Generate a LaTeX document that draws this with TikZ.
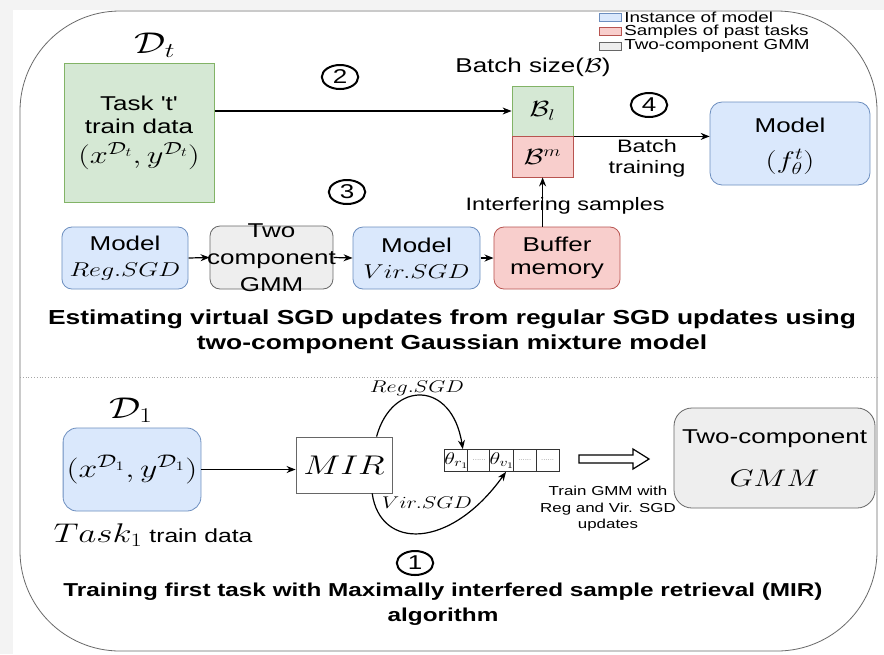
\RequirePackage{fix-cm}
\documentclass[tikz,border=0pt]{standalone}
\usepackage[no-math]{fontspec}
\setmainfont{Liberation Sans}
\usetikzlibrary{arrows.meta,calc,shapes.geometric}

\definecolor{gfill}{HTML}{D5E8D4}\definecolor{gline}{HTML}{82B366}
\definecolor{bfill}{HTML}{DAE8FC}\definecolor{bline}{HTML}{6C8EBF}
\definecolor{pfill}{HTML}{F8CECC}\definecolor{pline}{HTML}{B85450}
\definecolor{yfill}{HTML}{EEEEEE}\definecolor{yline}{HTML}{666666}
\definecolor{bgband}{HTML}{F3F3F3}
\definecolor{framec}{HTML}{6A6A6A}
\definecolor{cellc}{HTML}{333333}

\newcommand\fsz[2]{\fontsize{#1}{#2}\selectfont}

\tikzset{
  box/.style={draw, line width=0.8pt, inner sep=0pt, align=center, font=\fsz{20}{23}},
  greenbox/.style={box, fill=gfill, draw=gline},
  bluebox/.style={box, fill=bfill, draw=bline, rounded corners=10pt},
  pinkbox/.style={box, fill=pfill, draw=pline},
  graybox/.style={box, fill=yfill, draw=yline, rounded corners=10pt},
  numcirc/.style={ellipse, draw, line width=2pt, minimum width=28pt,
    minimum height=24pt, inner sep=0pt, font=\fsz{20}{20}},
  cell/.style={draw=cellc, fill=white, line width=0.8pt, minimum width=17.54pt,
    minimum height=22pt, inner sep=0pt, font=\fsz{17}{17}},
  legsq/.style={draw, line width=0.6pt, minimum width=17pt, minimum height=8pt, inner sep=0pt},
  legtxt/.style={anchor=west, inner sep=0pt, font=\fsz{14.5}{14.5}},
  conn/.style={->, line width=1.2pt},
}
\newcommand\celldots{{\color{gray}\fsz{6}{6}......}}

\begin{document}
\begin{tikzpicture}[x=0.76923pt, y=-1pt, xscale=1.3,
  every node/.append style={transform shape},
  >={Stealth[length=9pt,width=7pt]}]
\useasboundingbox (0,0) rectangle (884,654);
% page background and outer frame
\fill[bgband] (0,0) rectangle (884,654);
\fill[white] (13,10) rectangle (884,654);
\draw[framec, line width=0.8pt, rounded corners=100pt] (20,11) rectangle (877,651);
\draw[gray!70, dotted, line width=0.8pt] (20,377) -- (877,377);

% legend
\node[legsq, fill=bfill, draw=bline] (lg1) at (610,17) {};
\node[legtxt] (lt1) at (624,17) {Instance of model};
\node[legsq, fill=pfill, draw=pline] (lg2) at (610,31.5) {};
\node[legtxt] (lt2) at (624,31.5) {Samples of past tasks};
\node[legsq, fill=yfill, draw=yline] (lg3) at (610,46) {};
\node[legtxt] (lt3) at (624,46) {Two-component GMM};

% ---- upper part: training on task t ----
\node[font=\fsz{30}{34}] (dt) at (155,45) {$\mathcal{D}_t$};
\node[greenbox, minimum width=115.4pt, minimum height=139pt] (task) at (139,132.5)
  {Task \textquotesingle t\textquotesingle\\train data\\[7pt]{\fsz{25}{28}$(x^{\mathcal{D}_t},y^{\mathcal{D}_t})$}};

\node[font=\fsz{20}{23}] (bsz) at (533,67) {Batch size($\mathcal{B}$)};
\node[greenbox, minimum width=46.9pt, minimum height=50pt, font=\fsz{22}{24}] (bl) at (542.5,111) {$\mathcal{B}_l$};
\node[pinkbox, minimum width=46.9pt, minimum height=41pt, font=\fsz{22}{24}] (bm) at (542.5,156.5) {$\mathcal{B}^m$};

% model box: outline plus two stacked labels
\node[bluebox, minimum width=123pt, minimum height=83pt, rounded corners=12pt] (mf) at (790,143.5) {};
\node[font=\fsz{20}{23}] (mft) at (790,125) {Model};
\node[font=\fsz{24}{26}] (mfm) at (790,162) {$(f_\theta^t)$};

\node[numcirc] (n2) at (340,77) {2};
\node[numcirc] (n3) at (347,192) {3};
\node[numcirc] (n4) at (649,105) {4};

\node[font=\fsz{18}{21}, align=center] (bt) at (647,158) {Batch\\training};
\node[font=\fsz{18}{20}] (isamp) at (565,206) {Interfering samples};

\node[bluebox, minimum width=97pt, minimum height=62pt] (reg) at (125,258)
  {Model\\[3pt]$Reg.SGD$};
\node[graybox, minimum width=94.6pt, minimum height=63pt] (gmms) at (271.5,257.5) {};
\node[font=\fsz{20}{27}, align=center] (gmmstxt) at (gmms) {Two\\component\\GMM};
\node[bluebox, minimum width=97.7pt, minimum height=62pt] (vir) at (416.5,258)
  {Model\\[3pt]$Vir.SGD$};
\node[pinkbox, rounded corners=10pt, minimum width=97pt, minimum height=62pt] (buf) at (557,258)
  {Buffer\\memory};

\draw[conn] (task.east |- bl.west) -- (bl.west);
\draw[conn] (bl.south east) -- (bl.south east -| mf.west);
\draw[conn] (bm.south |- buf.north) -- (bm.south);
\draw[conn] (reg.east) -- (gmms.west);
\draw[conn] (gmms.east) -- (vir.west);
\draw[conn] (vir.east) -- (buf.west);

\node[font=\bfseries\fsz{20.3}{25}, align=center] (t1) at (452,332)
  {Estimating virtual SGD updates from regular SGD updates using\\two-component Gaussian mixture model};

% ---- lower part: first task with MIR ----
\node[font=\fsz{30}{34}] (d1lab) at (131,410) {$\mathcal{D}_1$};
\node[bluebox, minimum width=106pt, minimum height=83pt, rounded corners=14pt] (d1) at (132,469.5)
  {\fsz{26}{28}$(x^{\mathcal{D}_1},y^{\mathcal{D}_1})$};
\node[font=\fsz{19}{22}] (task1) at (153,535) {{\fsz{27}{30}$Task_1$} train data};

\node[draw=yline, fill=white, line width=0.8pt, minimum width=73.8pt, minimum height=56pt,
  font=\fsz{27}{29}] (mir) at (344,465) {$MIR$};

\node[cell] (tr) at (456.4,460.5) {$\theta_{r_1}$};
\node[cell] (c2) at (479.2,460.5) {\celldots};
\node[cell] (tv) at (502,460.5) {$\theta_{v_1}$};
\node[cell] (c4) at (524.8,460.5) {\celldots};
\node[cell] (c5) at (547.6,460.5) {\celldots};

\node[font=\fsz{17}{19}] (rl) at (417,388) {$Reg.SGD$};
\node[font=\fsz{17}{19}] (vl) at (427,503) {$Vir.SGD$};

\draw[conn] (d1.east) -- (d1.east -| mir.west);
\draw[conn] ($(mir.north)!0.67!(mir.north east)$) .. controls (392,380) and (452,380) .. ($(tr.north)!0.5!(tr.north east)$);
\draw[conn] ($(mir.south)!0.58!(mir.south east)$) .. controls (380,550) and (450,550) .. ($(tv.south)!0.3!(tv.south east)$);

% hollow arrow towards the GMM
\draw[line width=1.2pt, fill=white] (579,455) -- (633,455) -- (633,449) -- (649,459)
  -- (633,469) -- (633,463) -- (579,463) -- cycle;

\node[font=\fsz{13}{16.5}, align=center] (tg) at (608,509) {Train GMM with\\Reg and Vir. SGD\\updates};

\node[graybox, rounded corners=18pt, minimum width=154.6pt, minimum height=100pt] (gmmb) at (774.5,458)
  {Two-component\\[20pt]{\fsz{24}{26}$GMM$}};

\node[numcirc] (n1) at (415,563) {1};

\node[font=\bfseries\fsz{18.7}{25}, align=center] (t3) at (443,604)
  {Training first task with Maximally interfered sample retrieval (MIR)\\algorithm};
\end{tikzpicture}
\end{document}
